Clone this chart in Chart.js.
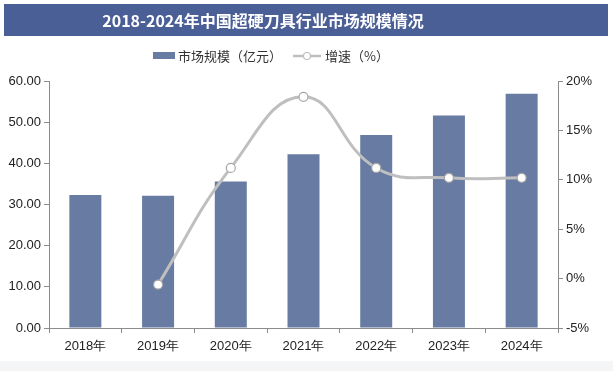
<!DOCTYPE html>
<html>
<head>
<meta charset="utf-8">
<script src="https://cdn.jsdelivr.net/npm/chart.js@4/dist/chart.umd.min.js"></script>
<style>
  html, body { margin: 0; padding: 0; background: #fff; }
  #wrap { width: 613px; height: 371px; position: relative; }
</style>
</head>
<body>
<div id="wrap"><canvas id="c" width="613" height="371"></canvas></div>
<script>
// data
const years = ['2018年', '2019年', '2020年', '2021年', '2022年', '2023年', '2024年'];
const marketSize = [32.3, 32.1, 35.6, 42.2, 46.9, 51.6, 56.9];
const growth = [null, -0.6, 11.2, 18.4, 11.2, 10.2, 10.2];
const leftTicks = [0, 10, 20, 30, 40, 50, 60];
const rightTicks = [-5, 0, 5, 10, 15, 20];

const titleText = '2018-2024年中国超硬刀具行业市场规模情况';
const barName = '市场规模（亿元）';
const lineName = '增速（%）';

const barColor = '#687ba3';
const lineColor = '#bfbfbf';
const axisColor = '#8c8c8c';
const font = 'Liberation Sans, Arial, sans-serif';

// Title bar and legend drawn by hand
const decoPlugin = {
  id: 'deco',
  beforeDraw(chart) {
    const ctx = chart.ctx;
    ctx.save();
    ctx.fillStyle = '#f4f5f7';
    ctx.fillRect(0, 361, 613, 10);
    ctx.fillStyle = '#4a5f96';
    ctx.fillRect(4, 4, 604, 32);
    ctx.fillStyle = '#fff';
    ctx.font = 'bold 16px "Noto Sans CJK SC", sans-serif';
    ctx.textAlign = 'center';
    ctx.textBaseline = 'middle';
    ctx.fillText(titleText, 263, 21);

    // legend
    ctx.font = '13px "Noto Sans CJK SC", sans-serif';
    ctx.textAlign = 'left';
    ctx.fillStyle = barColor;
    ctx.fillRect(153, 52, 22, 7);
    ctx.fillStyle = '#333';
    ctx.fillText(barName, 178, 56);
    ctx.strokeStyle = lineColor;
    ctx.lineWidth = 2.5;
    ctx.beginPath();
    ctx.moveTo(293, 56);
    ctx.lineTo(321, 56);
    ctx.stroke();
    ctx.beginPath();
    ctx.arc(307, 56, 3.5, 0, Math.PI * 2);
    ctx.fillStyle = '#fff';
    ctx.fill();
    ctx.lineWidth = 1.2;
    ctx.stroke();
    ctx.fillStyle = '#333';
    ctx.fillText(lineName, 325, 56);
    ctx.restore();
  }
};

new Chart(document.getElementById('c'), {
  data: {
    labels: years,
    datasets: [
      {
        type: 'line',
        label: lineName,
        data: growth,
        yAxisID: 'y1',
        borderColor: lineColor,
        borderWidth: 3,
        tension: 0.45,
        pointRadius: 4.5,
        pointBackgroundColor: '#fff',
        pointBorderColor: '#a6a6a6',
        pointBorderWidth: 1.2,
        order: 0
      },
      {
        type: 'bar',
        label: barName,
        data: marketSize,
        yAxisID: 'y',
        backgroundColor: barColor,
        barPercentage: 0.44,
        categoryPercentage: 1,
        order: 1
      }
    ]
  },
  options: {
    responsive: false,
    animation: false,
    layout: { padding: { top: 81, left: 4, right: 5, bottom: 13 } },
    plugins: {
      legend: { display: false },
      title: { display: false },
      tooltip: { enabled: false }
    },
    scales: {
      x: {
        grid: { offset: true, drawOnChartArea: false, tickLength: 5, color: axisColor },
        border: { color: axisColor },
        ticks: { color: '#222', font: { family: font, size: 13 }, padding: 6 },
        afterFit(s) { s.height = 30; }
      },
      y: {
        position: 'left',
        min: 0,
        max: 60,
        afterBuildTicks(s) { s.ticks = leftTicks.map(v => ({ value: v })); },
        grid: { drawOnChartArea: false, tickLength: 5, color: axisColor },
        border: { color: axisColor },
        ticks: {
          color: '#222',
          font: { family: font, size: 13 },
          padding: 3,
          callback: v => v.toFixed(2)
        },
        afterFit(s) { s.width = 45; }
      },
      y1: {
        position: 'right',
        min: -5,
        max: 20,
        afterBuildTicks(s) { s.ticks = rightTicks.map(v => ({ value: v })); },
        grid: { drawOnChartArea: false, tickLength: 5, color: axisColor },
        border: { color: axisColor },
        ticks: {
          color: '#222',
          font: { family: font, size: 13 },
          padding: 3,
          callback: v => v + '%'
        },
        afterFit(s) { s.width = 50; }
      }
    }
  },
  plugins: [decoPlugin]
});
</script>
</body>
</html>
